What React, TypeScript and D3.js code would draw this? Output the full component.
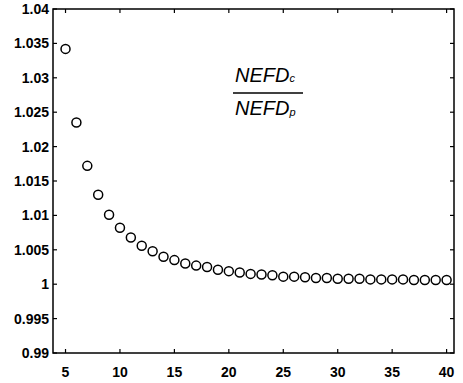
import * as d3 from "d3";
import React, {useRef, useEffect} from "react";

// ratio NEFDc / NEFDp for each value of x
const xValues = [5, 6, 7, 8, 9, 10, 11, 12, 13, 14, 15, 16, 17, 18, 19, 20, 21, 22,
    23, 24, 25, 26, 27, 28, 29, 30, 31, 32, 33, 34, 35, 36, 37, 38, 39, 40];
const ratioValues = [1.0342, 1.0235, 1.0172, 1.0130, 1.0101, 1.0082, 1.0068, 1.0056, 1.0048,
    1.0040, 1.0035, 1.0030, 1.0027, 1.0025, 1.0021, 1.0019, 1.0017, 1.0015,
    1.0014, 1.0013, 1.0011, 1.0011, 1.0010, 1.0009, 1.0009, 1.0008, 1.0008, 1.0008,
    1.0007, 1.0007, 1.0007, 1.0007, 1.0006, 1.0006, 1.0006, 1.0006];
const xTicks = [5, 10, 15, 20, 25, 30, 35, 40];
const yTicks = [0.99, 0.995, 1, 1.005, 1.01, 1.015, 1.02, 1.025, 1.03, 1.035, 1.04];
const yTickLabels = ["0.99", "0.995", "1", "1.005", "1.01", "1.015", "1.02", "1.025", "1.03", "1.035", "1.04"];

function App() {

    const ref = useRef<SVGSVGElement>(null);

    useEffect(() => {

        const left = 53, right = 454, top = 9, bottom = 353;
        const font = "'Liberation Sans', Arial, sans-serif";

        const svg = d3.select(ref.current);
        svg.selectAll("*").remove();

        const x = d3.scaleLinear().domain([3.85, 40.68]).range([left, right]);
        const y = d3.scaleLinear().domain([0.99, 1.04]).range([bottom, top]);

        // frame
        svg.append("rect")
            .attr("x", left)
            .attr("y", top)
            .attr("width", right - left)
            .attr("height", bottom - top)
            .attr("fill", "none")
            .attr("stroke", "black")
            .attr("stroke-width", 1.5);

        const tickLen = 4;

        // x ticks, bottom and top, pointing in
        xTicks.forEach(t => {
            svg.append("line")
                .attr("x1", x(t)).attr("x2", x(t))
                .attr("y1", bottom).attr("y2", bottom - tickLen)
                .attr("stroke", "black").attr("stroke-width", 1.2);
            svg.append("line")
                .attr("x1", x(t)).attr("x2", x(t))
                .attr("y1", top).attr("y2", top + tickLen)
                .attr("stroke", "black").attr("stroke-width", 1.2);
        });

        svg.append("g")
            .selectAll("text")
            .data(xTicks)
            .enter()
            .append("text")
            .attr("x", d => x(d))
            .attr("y", 377)
            .attr("text-anchor", "middle")
            .attr("font-family", font)
            .attr("font-size", 14)
            .attr("font-weight", "bold")
            .text(d => d);

        // y ticks, left and right
        yTicks.forEach(t => {
            svg.append("line")
                .attr("x1", left).attr("x2", left + tickLen)
                .attr("y1", y(t)).attr("y2", y(t))
                .attr("stroke", "black").attr("stroke-width", 1.2);
            svg.append("line")
                .attr("x1", right).attr("x2", right - tickLen)
                .attr("y1", y(t)).attr("y2", y(t))
                .attr("stroke", "black").attr("stroke-width", 1.2);
        });

        svg.append("g")
            .selectAll("text")
            .data(yTicks)
            .enter()
            .append("text")
            .attr("x", 49)
            .attr("y", d => y(d) + 5)
            .attr("text-anchor", "end")
            .attr("font-family", font)
            .attr("font-size", 14)
            .attr("font-weight", "bold")
            .text((d, i) => yTickLabels[i]);

        // markers
        svg.append("g")
            .selectAll("circle")
            .data(xValues)
            .enter()
            .append("circle")
            .attr("cx", d => x(d))
            .attr("cy", (d, i) => y(ratioValues[i]))
            .attr("r", 4.5)
            .attr("fill", "none")
            .attr("stroke", "black")
            .attr("stroke-width", 1.5);

        // fraction annotation
        const ann = svg.append("g").attr("font-family", font).attr("font-style", "italic").attr("font-size", 20);
        const num = ann.append("text").attr("x", 235).attr("y", 82);
        num.append("tspan").text("NEFD");
        num.append("tspan").attr("font-size", 11).text("c");
        ann.append("line")
            .attr("x1", 233).attr("x2", 303)
            .attr("y1", 93).attr("y2", 93)
            .attr("stroke", "black").attr("stroke-width", 1.5);
        const den = ann.append("text").attr("x", 235).attr("y", 115);
        den.append("tspan").text("NEFD");
        den.append("tspan").attr("font-size", 11).attr("dy", 1).text("p");

    }, []);

    return (
        <svg ref={ref} width={463} height={383}
             style={{position: "absolute", left: 0, top: 0, background: "white"}}/>
    );
}

export default App;
